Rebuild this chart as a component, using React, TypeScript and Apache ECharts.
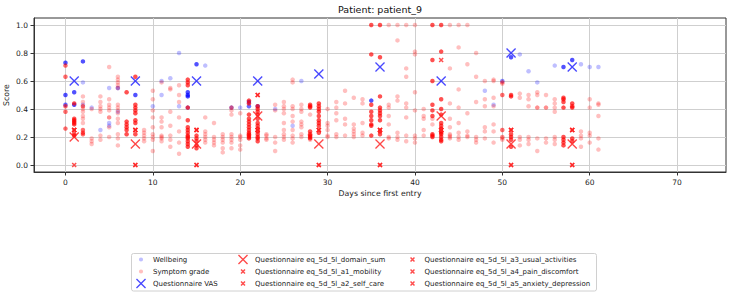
import React, { useEffect, useRef } from "react";
import * as echarts from "echarts";

const xTicks = [0, 10, 20, 30, 40, 50, 60, 70];
const yTicks = [0, 0.2, 0.4, 0.6, 0.8, 1.0];

// [day, value, number of overlapping entries]
const wellbeing: number[][] = [
  [0, 0.73, 4], [0, 0.5, 4], [0, 0.43, 3],
  [1, 0.52, 4], [1, 0.43, 4],
  [2, 0.74, 4], [2, 0.59, 1], [2, 0.43, 1],
  [3, 0.41, 1], [4, 0.25, 1],
  [5, 0.55, 1], [5, 0.3, 1], [5, 0.28, 1],
  [6, 0.55, 2], [6, 0.38, 1],
  [8, 0.5, 4], [10, 0.42, 1], [11, 0.6, 1], [11, 0.5, 1], [12, 0.62, 1],
  [13, 0.8, 1], [13, 0.42, 1],
  [14, 0.52, 4], [14, 0.5, 4], [14, 0.49, 4], [14, 0.41, 2],
  [15, 0.72, 4], [16, 0.71, 1], [19, 0.41, 2], [20, 0.41, 1],
  [21, 0.45, 4], [21, 0.42, 3], [22, 0.42, 3],
  [24, 0.4, 1], [26, 0.28, 1], [27, 0.6, 1], [35, 0.46, 4],
  [48, 0.53, 1], [49, 0.43, 1], [50, 0.6, 2], [51, 0.77, 4], [52, 0.79, 1],
  [53, 0.67, 1], [54, 0.59, 1], [56, 0.71, 1], [57, 0.7, 4], [58, 0.75, 4],
  [59, 0.72, 1], [60, 0.7, 1], [61, 0.7, 1],
];

const symptomGrade: number[][] = [
  [0, 0.71, 3], [0, 0.63, 3], [0, 0.42, 3], [0, 0.38, 3], [0, 0.26, 3],
  [1, 0.44, 4], [1, 0.33, 4], [1, 0.32, 4], [1, 0.31, 4], [1, 0.3, 4], [1, 0.29, 4], [1, 0.22, 4], [1, 0.21, 4],
  [2, 0.49, 1], [2, 0.45, 1], [2, 0.42, 3], [2, 0.4, 1], [2, 0.38, 1], [2, 0.35, 1], [2, 0.33, 1], [2, 0.3, 1], [2, 0.25, 3], [2, 0.23, 3], [2, 0.22, 3],
  [3, 0.4, 1], [3, 0.19, 1], [3, 0.17, 1], [3, 0.15, 1],
  [4, 0.49, 1], [4, 0.45, 1], [4, 0.42, 1], [4, 0.4, 1], [4, 0.38, 1], [4, 0.21, 1], [4, 0.18, 1],
  [5, 0.7, 1], [5, 0.47, 1], [5, 0.43, 1], [5, 0.41, 1], [5, 0.39, 1], [5, 0.34, 2], [5, 0.27, 1], [5, 0.2, 1],
  [6, 0.63, 1], [6, 0.61, 1], [6, 0.59, 1], [6, 0.57, 1], [6, 0.55, 1], [6, 0.43, 1], [6, 0.41, 1], [6, 0.39, 1], [6, 0.37, 1], [6, 0.33, 1], [6, 0.3, 1], [6, 0.22, 1], [6, 0.19, 1], [6, 0.14, 1],
  [7, 0.52, 4], [7, 0.31, 4], [7, 0.29, 4], [7, 0.27, 4], [7, 0.25, 4], [7, 0.22, 4],
  [8, 0.63, 4], [8, 0.43, 4], [8, 0.41, 4], [8, 0.39, 4], [8, 0.37, 4], [8, 0.32, 4], [8, 0.3, 4], [8, 0.22, 4],
  [9, 0.25, 1], [9, 0.23, 1], [9, 0.21, 1], [9, 0.19, 1], [9, 0.17, 1],
  [10, 0.53, 1], [10, 0.47, 1], [10, 0.39, 1], [10, 0.34, 1], [10, 0.27, 1], [10, 0.22, 1], [10, 0.2, 1], [10, 0.18, 1], [10, 0.1, 1],
  [11, 0.59, 1], [11, 0.34, 1], [11, 0.31, 1], [11, 0.27, 1], [11, 0.21, 1], [11, 0.2, 1], [11, 0.19, 1], [11, 0.17, 1],
  [12, 0.55, 1], [12, 0.54, 1], [12, 0.38, 1], [12, 0.28, 1], [12, 0.21, 1], [12, 0.18, 1], [12, 0.13, 1],
  [13, 0.57, 1], [13, 0.5, 1], [13, 0.45, 1], [13, 0.34, 1], [13, 0.24, 1], [13, 0.16, 1], [13, 0.08, 1],
  [14, 0.61, 4], [14, 0.59, 4], [14, 0.57, 4], [14, 0.41, 4], [14, 0.32, 4], [14, 0.27, 4], [14, 0.25, 4], [14, 0.23, 4], [14, 0.21, 4], [14, 0.2, 4], [14, 0.19, 4], [14, 0.17, 4], [14, 0.15, 4], [14, 0.13, 4],
  [15, 0.21, 4], [15, 0.19, 4], [15, 0.17, 4], [15, 0.14, 4], [15, 0.12, 4],
  [16, 0.34, 1], [16, 0.24, 1], [16, 0.22, 1], [16, 0.2, 1], [16, 0.18, 1], [16, 0.16, 1],
  [17, 0.3, 1], [17, 0.2, 1], [17, 0.18, 1], [17, 0.16, 1], [17, 0.14, 1],
  [18, 0.22, 1], [18, 0.2, 1], [18, 0.18, 1], [18, 0.16, 1], [18, 0.12, 1], [18, 0.09, 1],
  [19, 0.41, 2], [19, 0.39, 1], [19, 0.36, 1], [19, 0.22, 1], [19, 0.2, 1], [19, 0.18, 1], [19, 0.16, 1], [19, 0.12, 1],
  [20, 0.37, 1], [20, 0.21, 1], [20, 0.2, 1], [20, 0.18, 1], [20, 0.14, 1], [20, 0.11, 1],
  [21, 0.46, 4], [21, 0.44, 4], [21, 0.36, 4], [21, 0.33, 4], [21, 0.31, 4], [21, 0.29, 4], [21, 0.27, 4], [21, 0.25, 4], [21, 0.23, 4], [21, 0.22, 4], [21, 0.21, 4], [21, 0.2, 4], [21, 0.19, 4],
  [22, 0.42, 4], [22, 0.4, 4], [22, 0.38, 4], [22, 0.36, 4], [22, 0.33, 4], [22, 0.3, 4], [22, 0.28, 4], [22, 0.26, 4], [22, 0.24, 4], [22, 0.22, 4], [22, 0.2, 4], [22, 0.19, 4], [22, 0.17, 4],
  [23, 0.22, 1], [23, 0.21, 1], [23, 0.19, 1], [23, 0.18, 1],
  [24, 0.43, 1], [24, 0.39, 1], [24, 0.2, 1], [24, 0.16, 1], [24, 0.1, 1],
  [25, 0.45, 1], [25, 0.42, 1], [25, 0.4, 1], [25, 0.37, 1], [25, 0.3, 1], [25, 0.25, 1], [25, 0.22, 1], [25, 0.2, 1], [25, 0.18, 1],
  [26, 0.61, 1], [26, 0.59, 1], [26, 0.42, 1], [26, 0.4, 1], [26, 0.35, 1], [26, 0.31, 1], [26, 0.25, 1], [26, 0.21, 1], [26, 0.19, 1], [26, 0.16, 1],
  [27, 0.43, 1], [27, 0.4, 1], [27, 0.38, 1], [27, 0.31, 1], [27, 0.29, 1], [27, 0.27, 1], [27, 0.22, 1], [27, 0.2, 1],
  [28, 0.43, 4], [28, 0.42, 4], [28, 0.41, 4], [28, 0.36, 1], [28, 0.24, 4], [28, 0.22, 4], [28, 0.21, 4], [28, 0.2, 4], [28, 0.19, 4], [28, 0.18, 1],
  [29, 0.44, 4], [29, 0.42, 4], [29, 0.4, 4], [29, 0.38, 4], [29, 0.35, 4], [29, 0.32, 4], [29, 0.3, 4], [29, 0.28, 4], [29, 0.23, 4],
  [30, 0.4, 1], [30, 0.3, 1], [30, 0.28, 1], [30, 0.25, 1], [30, 0.21, 1], [30, 0.2, 1],
  [31, 0.45, 1], [31, 0.41, 1], [31, 0.37, 1], [31, 0.32, 1], [31, 0.22, 1], [31, 0.2, 1],
  [32, 0.53, 1], [32, 0.44, 1], [32, 0.33, 1], [32, 0.29, 1], [32, 0.21, 1],
  [33, 0.48, 1], [33, 0.29, 1], [33, 0.26, 1], [33, 0.24, 1], [33, 0.22, 1], [33, 0.2, 1],
  [34, 0.47, 1], [34, 0.44, 1], [34, 0.3, 1], [34, 0.23, 1], [34, 0.21, 1],
  [35, 1.0, 4], [35, 0.79, 4], [35, 0.43, 4], [35, 0.38, 4], [35, 0.35, 4], [35, 0.32, 4], [35, 0.29, 4], [35, 0.28, 4], [35, 0.21, 4],
  [36, 1.0, 4], [36, 0.77, 4], [36, 0.49, 4], [36, 0.41, 4], [36, 0.39, 4], [36, 0.37, 4], [36, 0.35, 4], [36, 0.32, 4], [36, 0.24, 4], [36, 0.22, 4],
  [37, 1.0, 1], [37, 0.43, 1], [37, 0.41, 1], [37, 0.35, 1], [37, 0.29, 1], [37, 0.2, 1], [37, 0.19, 1],
  [38, 1.0, 1], [38, 0.89, 1], [38, 0.49, 1], [38, 0.46, 1], [38, 0.23, 1], [38, 0.2, 1], [38, 0.18, 1],
  [39, 1.0, 1], [39, 0.69, 1], [39, 0.63, 1], [39, 0.44, 1], [39, 0.41, 1], [39, 0.34, 1], [39, 0.21, 1], [39, 0.17, 1],
  [40, 1.0, 1], [40, 0.81, 1], [40, 0.79, 1], [40, 0.52, 1], [40, 0.39, 1], [40, 0.21, 1], [40, 0.19, 1], [40, 0.16, 1],
  [41, 0.4, 1], [41, 0.35, 1], [41, 0.33, 1], [41, 0.25, 1], [41, 0.21, 1],
  [42, 1.0, 4], [42, 0.75, 4], [42, 0.6, 4], [42, 0.43, 4], [42, 0.39, 4], [42, 0.35, 4], [42, 0.33, 1], [42, 0.29, 1], [42, 0.22, 4], [42, 0.21, 4], [42, 0.2, 4],
  [43, 1.0, 4], [43, 0.81, 4], [43, 0.47, 4], [43, 0.4, 4], [43, 0.36, 4], [43, 0.3, 4], [43, 0.28, 4], [43, 0.26, 4], [43, 0.24, 4], [43, 0.23, 4], [43, 0.22, 4], [43, 0.2, 4], [43, 0.18, 4], [43, 0.17, 4],
  [44, 1.0, 1], [44, 0.69, 1], [44, 0.44, 1], [44, 0.33, 1], [44, 0.27, 1], [44, 0.22, 1], [44, 0.21, 1], [44, 0.2, 1], [44, 0.19, 1],
  [45, 1.0, 1], [45, 0.84, 1], [45, 0.54, 1], [45, 0.41, 1], [45, 0.3, 1], [45, 0.23, 1], [45, 0.2, 1], [45, 0.18, 1],
  [46, 1.0, 1], [46, 0.72, 1], [46, 0.37, 1], [46, 0.24, 1], [46, 0.21, 1], [46, 0.2, 1],
  [47, 0.8, 1], [47, 0.63, 1], [47, 0.45, 1], [47, 0.2, 1], [47, 0.18, 1], [47, 0.16, 1],
  [48, 0.6, 1], [48, 0.47, 1], [48, 0.42, 1], [48, 0.27, 1], [48, 0.24, 1], [48, 0.19, 1],
  [49, 0.61, 1], [49, 0.6, 1], [49, 0.48, 1], [49, 0.42, 1], [49, 0.29, 1], [49, 0.24, 1], [49, 0.16, 1],
  [50, 0.59, 2], [50, 0.58, 1], [50, 0.5, 3], [50, 0.25, 3], [50, 0.2, 2], [50, 0.19, 1], [50, 0.18, 1],
  [51, 0.5, 4], [51, 0.49, 4], [51, 0.22, 4], [51, 0.2, 4], [51, 0.18, 4], [51, 0.13, 4],
  [52, 0.51, 1], [52, 0.48, 1], [52, 0.2, 1], [52, 0.18, 1], [52, 0.14, 1],
  [53, 0.5, 1], [53, 0.47, 1], [53, 0.42, 1], [53, 0.2, 1], [53, 0.18, 1], [53, 0.15, 1],
  [54, 0.52, 1], [54, 0.5, 1], [54, 0.41, 2], [54, 0.19, 1], [54, 0.1, 1],
  [55, 0.5, 1], [55, 0.41, 2], [55, 0.19, 1], [55, 0.16, 1],
  [56, 0.47, 1], [56, 0.44, 1], [56, 0.41, 1], [56, 0.38, 1], [56, 0.2, 1], [56, 0.18, 1], [56, 0.15, 1],
  [57, 0.48, 4], [57, 0.47, 4], [57, 0.45, 4], [57, 0.41, 4], [57, 0.2, 4], [57, 0.18, 4], [57, 0.16, 4], [57, 0.14, 4],
  [58, 0.44, 4], [58, 0.42, 4], [58, 0.41, 4], [58, 0.19, 4], [58, 0.17, 4],
  [59, 0.24, 1], [59, 0.21, 1], [59, 0.19, 1], [59, 0.13, 1],
  [60, 0.47, 1], [60, 0.41, 1], [60, 0.23, 1], [60, 0.21, 1], [60, 0.16, 1],
  [61, 0.44, 1], [61, 0.43, 1], [61, 0.35, 1], [61, 0.19, 1], [61, 0.11, 1],
];

const vas: number[][] = [[1, 0.6], [8, 0.6], [15, 0.6], [22, 0.6], [29, 0.65], [36, 0.7], [43, 0.6], [51, 0.8], [58, 0.7]];
const domainSum: number[][] = [[1, 0.2], [8, 0.15], [15, 0.15], [22, 0.35], [29, 0.15], [36, 0.15], [43, 0.35], [51, 0.15], [58, 0.15]];
const a1Mobility: number[][] = [[1, 0.25], [8, 0], [15, 0], [22, 0.25], [29, 0], [36, 0], [43, 0.25], [51, 0], [58, 0]];
const a2SelfCare: number[][] = [[1, 0], [8, 0], [15, 0], [22, 0.25], [29, 0], [36, 0], [43, 0.25], [51, 0], [58, 0]];
const a3UsualActivities: number[][] = [[1, 0.25], [8, 0.25], [15, 0.25], [22, 0.5], [29, 0.25], [36, 0.25], [43, 0.25], [51, 0.25], [58, 0.25]];
const a4PainDiscomfort: number[][] = [[1, 0.25], [8, 0.25], [15, 0.25], [22, 0.5], [29, 0.25], [36, 0.25], [43, 0.75], [51, 0.25], [58, 0.25]];
const a5AnxietyDepression: number[][] = [[1, 0.25], [8, 0.25], [15, 0.25], [22, 0.25], [29, 0.25], [36, 0.25], [43, 0.25], [51, 0.25], [58, 0.25]];

const NAMES = {
  wb: "Wellbeing",
  sg: "Symptom grade",
  vas: "Questionnaire VAS",
  ds: "Questionnaire eq_5d_5l_domain_sum",
  a1: "Questionnaire eq_5d_5l_a1_mobility",
  a2: "Questionnaire eq_5d_5l_a2_self_care",
  a3: "Questionnaire eq_5d_5l_a3_usual_activities",
  a4: "Questionnaire eq_5d_5l_a4_pain_discomfort",
  a5: "Questionnaire eq_5d_5l_a5_anxiety_depression",
};

function xShape(cx: number, cy: number, r: number, a: number): string {
  const p = (x: number, y: number) => `${x},${y}`;
  return (
    `M${p(cx - r, cy - r + a)}L${p(cx - r + a, cy - r)}L${p(cx + r, cy + r - a)}L${p(cx + r - a, cy + r)}Z` +
    `M${p(cx + r - a, cy - r)}L${p(cx + r, cy - r + a)}L${p(cx - r + a, cy + r)}L${p(cx - r, cy + r - a)}Z`
  );
}

const BIG_X = "path://" + xShape(5, 5, 5, 0.95);
const SMALL_X = "path://" + xShape(5, 5, 5, 2.1);
const ICON_DOT = "path://M0,0M14,10M4.9,5a2.1,2.1 0 1,0 4.2,0a2.1,2.1 0 1,0 -4.2,0Z";
const ICON_BIG_X = "path://M0,0M14,10" + xShape(7, 5, 5, 0.95);
const ICON_SMALL_X = "path://M0,0M14,10" + xShape(7, 5, 2.5, 1.05);

const FONT = "DejaVu Sans";

export default function App() {
  const ref = useRef<HTMLDivElement>(null);
  useEffect(() => {
    if (!ref.current) return;
    const chart = echarts.init(ref.current, undefined, { renderer: "svg" });
    const dense = (rows: number[][]) =>
      rows.map(([d, v, n]) => ({ value: [d, v], itemStyle: { opacity: 1 - Math.pow(0.75, n) } }));
    const cross = (name: string, rows: number[][], color: string, big: boolean) => ({
      name,
      type: "scatter",
      data: rows,
      symbol: big ? BIG_X : SMALL_X,
      symbolSize: big ? 10 : 5,
      itemStyle: { color },
      silent: true,
    });
    const legendCommon = {
      orient: "vertical",
      top: 254.5,
      itemWidth: 14,
      itemHeight: 10,
      itemGap: 2,
      selectedMode: false,
      padding: 0,
      textStyle: { fontFamily: FONT, fontSize: 7, color: "#222" },
    };
    chart.setOption({
      animation: false,
      grid: {
        left: 34, top: 18, width: 692, height: 154,
        outerBoundsMode: "none", containLabel: false,
        show: true, borderColor: "#333", borderWidth: 1,
      },
      graphic: [
        {
          type: "text",
          x: 380,
          y: 9,
          style: { text: "Patient: patient_9", fontFamily: FONT, fontSize: 9.5, fill: "#111", textAlign: "center", textVerticalAlign: "middle" },
        },
        {
          type: "rect",
          shape: { x: 131.5, y: 253.5, width: 465, height: 37.5, r: 2 },
          style: { fill: "none", stroke: "#d0d0d0", lineWidth: 1 },
        },
      ],
      legend: [
        { ...legendCommon, left: 134, data: [
          { name: NAMES.wb, icon: ICON_DOT },
          { name: NAMES.sg, icon: ICON_DOT },
          { name: NAMES.vas, icon: ICON_BIG_X },
        ] },
        { ...legendCommon, left: 236, data: [
          { name: NAMES.ds, icon: ICON_BIG_X },
          { name: NAMES.a1, icon: ICON_SMALL_X },
          { name: NAMES.a2, icon: ICON_SMALL_X },
        ] },
        { ...legendCommon, left: 405.5, data: [
          { name: NAMES.a3, icon: ICON_SMALL_X },
          { name: NAMES.a4, icon: ICON_SMALL_X },
          { name: NAMES.a5, icon: ICON_SMALL_X },
        ] },
      ],
      xAxis: {
        type: "value",
        min: -3.6,
        max: 75.6,
        name: "Days since first entry",
        nameLocation: "middle",
        nameGap: 17,
        nameMoveOverlap: false,
        nameTextStyle: { fontFamily: FONT, fontSize: 7.8, color: "#222" },
        axisLine: { show: true, onZero: false, lineStyle: { color: "#333", width: 1 } },
        axisTick: { show: true, length: 3.5, lineStyle: { color: "#333" }, customValues: xTicks },
        axisLabel: { customValues: xTicks, margin: 6, fontFamily: FONT, fontSize: 7.5, color: "#222" },
        splitLine: { show: true, lineStyle: { color: "#cfcfcf", width: 1 } },
      },
      yAxis: {
        type: "value",
        min: -0.05,
        max: 1.05,
        name: "Score",
        nameLocation: "middle",
        nameGap: 24,
        nameMoveOverlap: false,
        nameTextStyle: { fontFamily: FONT, fontSize: 7.8, color: "#222" },
        axisLine: { show: true, onZero: false, lineStyle: { color: "#333", width: 1 } },
        axisTick: { show: true, length: 3.5, lineStyle: { color: "#333" }, customValues: yTicks },
        axisLabel: {
          customValues: yTicks,
          margin: 6,
          fontFamily: FONT,
          fontSize: 7.5,
          color: "#222",
          formatter: (v: number) => v.toFixed(1),
        },
        splitLine: { show: true, lineStyle: { color: "#cfcfcf", width: 1 } },
      },
      series: [
        {
          name: NAMES.wb,
          type: "scatter",
          data: dense(wellbeing),
          symbol: "circle",
          symbolSize: 4.5,
          itemStyle: { color: "#0000ff", opacity: 0.25 },
          silent: true,
        },
        {
          name: NAMES.sg,
          type: "scatter",
          data: dense(symptomGrade),
          symbol: "circle",
          symbolSize: 4.5,
          itemStyle: { color: "#ff0000", opacity: 0.25 },
          silent: true,
        },
        cross(NAMES.vas, vas, "#1a1aff", true),
        cross(NAMES.ds, domainSum, "#ff1a1a", true),
        cross(NAMES.a1, a1Mobility, "#ff2020", false),
        cross(NAMES.a2, a2SelfCare, "#ff2020", false),
        cross(NAMES.a3, a3UsualActivities, "#ff2020", false),
        cross(NAMES.a4, a4PainDiscomfort, "#ff2020", false),
        cross(NAMES.a5, a5AnxietyDepression, "#ff2020", false),
      ],
    });
    return () => chart.dispose();
  }, []);
  return <div ref={ref} style={{ width: 731, height: 294, position: "absolute", left: 0, top: 0 }} />;
}
